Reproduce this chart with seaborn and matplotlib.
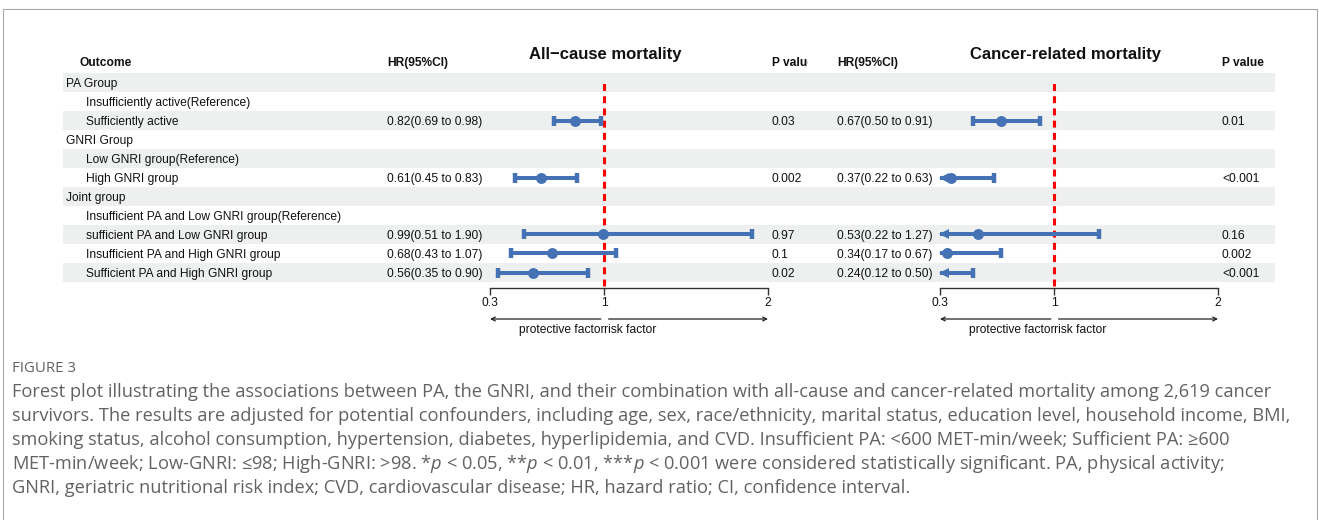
import numpy as np
import pandas as pd
import matplotlib
matplotlib.use("Agg")
import matplotlib.pyplot as plt
import seaborn as sns
from matplotlib.patches import Rectangle
from matplotlib.transforms import Bbox

nan = np.nan

# ---------------- data ----------------
labels = [
    "PA Group",
    "Insufficiently active(Reference)",
    "Sufficiently active",
    "GNRI Group",
    "Low GNRI group(Reference)",
    "High GNRI group",
    "Joint group",
    "Insufficient PA and Low GNRI group(Reference)",
    "sufficient PA and Low GNRI group",
    "Insufficient PA and High GNRI group",
    "Sufficient PA and High GNRI group",
]
is_group = [True, False, False, True, False, False, True, False, False, False, False]

ac_hr = [nan, nan, 0.82, nan, nan, 0.61, nan, nan, 0.99, 0.68, 0.56]
ac_lo = [nan, nan, 0.69, nan, nan, 0.45, nan, nan, 0.51, 0.43, 0.35]
ac_hi = [nan, nan, 0.98, nan, nan, 0.83, nan, nan, 1.90, 1.07, 0.90]
ac_p = ["", "", "0.03", "", "", "0.002", "", "", "0.97", "0.1", "0.02"]

ca_hr = [nan, nan, 0.67, nan, nan, 0.37, nan, nan, 0.53, 0.34, 0.24]
ca_lo = [nan, nan, 0.50, nan, nan, 0.22, nan, nan, 0.22, 0.17, 0.12]
ca_hi = [nan, nan, 0.91, nan, nan, 0.63, nan, nan, 1.27, 0.67, 0.50]
ca_p = ["", "", "0.01", "", "", "<0.001", "", "", "0.16", "0.002", "<0.001"]

panel_titles = ["All\u2212cause mortality", "Cancer-related mortality"]
x_ticks = [0.3, 1, 2]
x_ticklabels = ["0.3", "1", "2"]
x_limits = (0.3, 2)
ref_value = 1
left_label = "protective factor"
right_label = "risk factor"
header_outcome = "Outcome"
header_hr = "HR(95%CI)"
header_p = "P value"

caption_head = "FIGURE 3"
caption_lines = [
    "Forest plot illustrating the associations between PA, the GNRI, and their combination with all-cause and cancer-related mortality among 2,619 cancer",
    "survivors. The results are adjusted for potential confounders, including age, sex, race/ethnicity, marital status, education level, household income, BMI,",
    "smoking status, alcohol consumption, hypertension, diabetes, hyperlipidemia, and CVD. Insufficient PA: <600 MET-min/week; Sufficient PA: \u2265600",
    "MET-min/week; Low-GNRI: \u226498; High-GNRI: >98. *$p$ < 0.05, **$p$ < 0.01, ***$p$ < 0.001 were considered statistically significant. PA, physical activity;",
    "GNRI, geriatric nutritional risk index; CVD, cardiovascular disease; HR, hazard ratio; CI, confidence interval.",
]

# ---------------- style ----------------
sns.set_theme(style="white")
plt.rcParams["font.family"] = ["Liberation Sans", "DejaVu Sans"]
plt.rcParams["lines.scale_dashes"] = False
plt.rcParams["mathtext.fontset"] = "custom"
plt.rcParams["mathtext.it"] = "Open Sans:italic"
plt.rcParams["mathtext.rm"] = "Open Sans"

BLUE = "#4472B4"
BAND = "#EDF0EF"
CAP_FONT = ["Open Sans", "DejaVu Sans"]
CAP_COLOR = "#626262"
FS = 8.65
TXT = "#111111"

W, H = 1319, 520
fig = plt.figure(figsize=(W / 100, H / 100), dpi=100)
fig.patch.set_facecolor("white")
bg = fig.add_axes([0, 0, 1, 1])
bg.set_xlim(0, W)
bg.set_ylim(H, 0)
bg.axis("off")

# outer frame
bg.add_patch(Rectangle((2.5, 8.5), 1314, 530, fill=False, edgecolor="#a8a8a8", lw=0.8))

n = len(labels)
ROW0, ROWH = 73, 19
BAND_X0, BAND_X1 = 63, 1275
row_y = [ROW0 + ROWH * (i + 0.5) for i in range(n)]
BASE = 4.2  # baseline offset from row centre

for i in range(n):
    if i % 2 == 0:
        bg.add_patch(Rectangle((BAND_X0, ROW0 + ROWH * i), BAND_X1 - BAND_X0, ROWH,
                               facecolor=BAND, edgecolor="none", zorder=0))

# column positions (pixels)
X_GROUP, X_ITEM = 66, 86
panels = [
    dict(hr=ac_hr, lo=ac_lo, hi=ac_hi, p=ac_p, x_hr=387, x0=490, x1=768, x_p=772, clip_p=808,
         title=panel_titles[0], tx=605.5),
    dict(hr=ca_hr, lo=ca_lo, hi=ca_hi, p=ca_p, x_hr=837, x0=940, x1=1218, x_p=1222, clip_p=None,
         title=panel_titles[1], tx=1065.5),
]

# headers
HEAD_Y = 62
bg.text(79, HEAD_Y + BASE, header_outcome, fontsize=FS, fontweight="bold", va="baseline", color=TXT)
for i, lab in enumerate(labels):
    bg.text(X_GROUP if is_group[i] else X_ITEM, row_y[i] + BASE, lab, fontsize=FS, va="baseline", color=TXT)

for pnl in panels:
    bg.text(pnl["tx"], 58.5, pnl["title"], fontsize=12, fontweight="bold", ha="center", va="baseline", color=TXT)
    bg.text(pnl["x_hr"], HEAD_Y + BASE, header_hr, fontsize=FS, fontweight="bold", va="baseline", color=TXT)
    tp = bg.text(pnl["x_p"], HEAD_Y + BASE, header_p, fontsize=FS, fontweight="bold", va="baseline", color=TXT)
    if pnl["clip_p"] is not None:
        tp.set_clip_on(True)
        tp.set_clip_path(None)
        tp.set_clip_box(Bbox.from_extents(0, 0, pnl["clip_p"], H))
    for i in range(n):
        if not np.isnan(pnl["hr"][i]):
            s = f"{pnl['hr'][i]:.2f}({pnl['lo'][i]:.2f} to {pnl['hi'][i]:.2f})"
            bg.text(pnl["x_hr"], row_y[i] + BASE, s, fontsize=FS, va="baseline", color=TXT)
        if pnl["p"][i]:
            bg.text(pnl["x_p"], row_y[i] + BASE, pnl["p"][i], fontsize=FS, va="baseline", color=TXT)

# forest panels
AX_TOP, AX_BOT = ROW0, ROW0 + ROWH * n
for pnl in panels:
    x0, x1 = pnl["x0"], pnl["x1"]
    ax = fig.add_axes([x0 / W, 1 - AX_BOT / H, (x1 - x0) / W, (AX_BOT - AX_TOP) / H])
    ax.patch.set_alpha(0)
    df = pd.DataFrame({"row": np.arange(n), "hr": pnl["hr"], "lo": pnl["lo"], "hi": pnl["hi"]}).dropna()
    lo_lim, hi_lim = x_limits
    df["lo_c"] = df["lo"].clip(lo_lim, hi_lim)
    df["hi_c"] = df["hi"].clip(lo_lim, hi_lim)

    frac_h = AX_BOT - AX_TOP
    ax.axvline(ref_value, ymin=-4 / frac_h, ymax=(AX_BOT - 80) / frac_h, color="red", lw=2.2,
               dashes=(5, 3.8), clip_on=False, zorder=1)

    ax.hlines(df["row"], df["lo_c"], df["hi_c"], color=BLUE, lw=2.9, zorder=3)
    caps_lo = df[df["lo"] >= lo_lim]
    caps_hi = df[df["hi"] <= hi_lim]
    ax.plot(caps_lo["lo"], caps_lo["row"], ls="none", marker="|", ms=6.8, mew=3.2, color=BLUE, zorder=3)
    ax.plot(caps_hi["hi"], caps_hi["row"], ls="none", marker="|", ms=6.8, mew=3.2, color=BLUE, zorder=3)
    arr = df[df["lo"] < lo_lim]
    ax.plot(arr["lo_c"] + 0.022, arr["row"], ls="none", marker="<", ms=6.5, mew=0, color=BLUE,
            zorder=3, clip_on=False)
    pts = df[(df["hr"] >= lo_lim) & (df["hr"] <= hi_lim)]
    sns.scatterplot(data=pts, x="hr", y="row", ax=ax, color=BLUE, s=62, linewidth=0, zorder=4,
                    legend=False, clip_on=False)

    ax.set_xlim(*x_limits)
    ax.set_ylim(n - 0.5, -0.5)
    ax.set_xlabel("")
    ax.set_ylabel("")
    ax.set_yticks([])
    ax.set_xticks(x_ticks)
    ax.set_xticklabels(x_ticklabels)
    for side in ["left", "right", "top"]:
        ax.spines[side].set_visible(False)
    ax.spines["bottom"].set_position(("outward", 4))
    ax.spines["bottom"].set_color("#333333")
    ax.spines["bottom"].set_linewidth(1.0)
    ax.tick_params(axis="x", direction="out", length=5, width=1.0, color="#333333",
                   labelsize=FS, pad=2, labelcolor=TXT, bottom=True)

    xt = ax.get_xaxis_transform()
    ya = (AX_BOT - 319) / frac_h
    yl = (AX_BOT - 333) / frac_h
    ap = dict(arrowstyle="->", lw=0.9, color="#222", mutation_scale=7, shrinkA=0, shrinkB=0)
    ax.annotate("", xy=(lo_lim, ya), xytext=(ref_value - 0.022, ya), xycoords=xt, textcoords=xt,
                arrowprops=ap, annotation_clip=False)
    ax.annotate("", xy=(hi_lim, ya), xytext=(ref_value + 0.025, ya), xycoords=xt, textcoords=xt,
                arrowprops=ap, annotation_clip=False)
    ax.text(ref_value, yl, left_label, transform=xt, ha="right", va="baseline", fontsize=FS, color=TXT)
    ax.text(ref_value, yl, right_label, transform=xt, ha="left", va="baseline", fontsize=FS, color=TXT)

# caption: fit font size so the lines span about the same width as the reference
renderer = fig.canvas.get_renderer()
probe = bg.text(0, 0, caption_lines[0], fontsize=10, family=CAP_FONT)
w10 = probe.get_window_extent(renderer).width
probe.remove()
cap_fs = 0.986 * 10 * (1290 - 12.5) / w10
head = bg.text(12.5, 372, caption_head, fontsize=10, family=CAP_FONT, color=CAP_COLOR, va="baseline")
hw = head.get_window_extent(renderer).width
head.set_fontsize(10 * 64 / hw)
for k, line in enumerate(caption_lines):
    bg.text(12.5, 397 + 24 * k, line, fontsize=cap_fs, family=CAP_FONT, color=CAP_COLOR, va="baseline")

fig.savefig("out.png", dpi=100)
